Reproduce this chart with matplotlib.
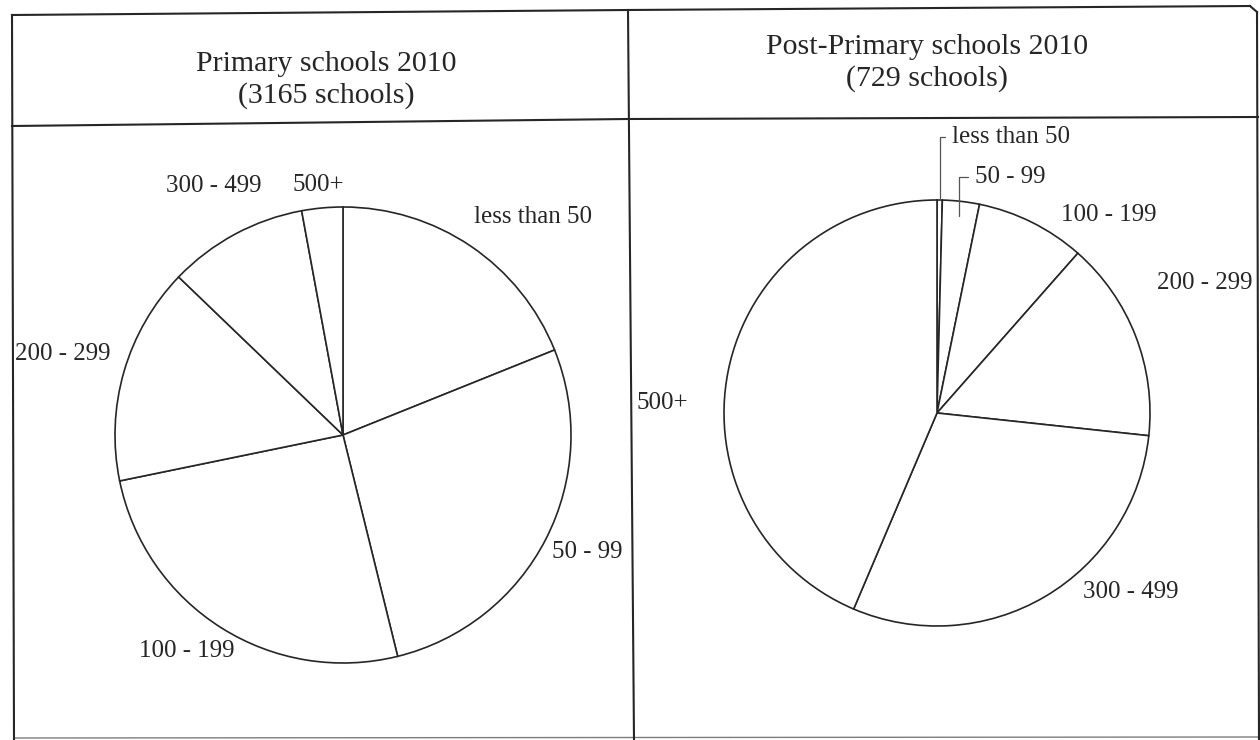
import numpy as np
import matplotlib.pyplot as plt

plt.rcParams['font.family'] = ['Liberation Serif', 'DejaVu Serif']

categories = ['less than 50', '50 - 99', '100 - 199', '200 - 299', '300 - 499', '500+']
primary_share = [18.9, 27.2, 25.6, 15.4, 9.9, 2.9]
post_primary_share = [0.4, 2.8, 8.3, 15.2, 29.7, 43.6]
titles = ['Primary schools 2010\n(3165 schools)', 'Post-Primary schools 2010\n(729 schools)']

W, H = 1260, 740
ink = '#262626'

fig = plt.figure(figsize=(12.6, 7.4), dpi=100)
fig.patch.set_facecolor('white')

# table frame in pixel coordinates
frame = fig.add_axes([0, 0, 1, 1])
frame.set_xlim(0, W)
frame.set_ylim(H, 0)
frame.axis('off')
lw = 1.5
frame.plot([12, 628, 1250], [15, 10, 6], color=ink, lw=lw)
frame.plot([1250, 1257], [6, 12], color=ink, lw=lw)
frame.plot([12, 628, 1258], [126, 119, 117], color=ink, lw=lw)
frame.plot([12, 14], [15, 740], color=ink, lw=lw)
frame.plot([628, 634], [10, 740], color=ink, lw=lw)
frame.plot([1257, 1259], [12, 740], color=ink, lw=lw)
frame.plot([14, 1259], [738, 737], color=ink, lw=1.0, alpha=0.6)

frame.text(326, 80, titles[0], ha='center', va='center', fontsize=21.5,
           color=ink, linespacing=1.2)
frame.text(927, 63, titles[1], ha='center', va='center', fontsize=21.5,
           color=ink, linespacing=1.2)


def pie_axes(cx, cy, r):
    return fig.add_axes([(cx - r) / W, (H - cy - r) / H, 2 * r / W, 2 * r / H])


def draw_pie(ax, values, label_pos):
    wedges, _ = ax.pie(values, startangle=90, counterclock=False, radius=1,
                       wedgeprops=dict(facecolor='white', edgecolor=ink, linewidth=1.2))
    ax.set_xlim(-1, 1)
    ax.set_ylim(-1, 1)
    ax.set_aspect('equal')
    for w, name in zip(wedges, categories):
        if name not in label_pos:
            continue
        d, dt = label_pos[name]
        mid = np.deg2rad((w.theta1 + w.theta2) / 2 + dt)
        ax.text(d * np.cos(mid), d * np.sin(mid), name, ha='center', va='center',
                fontsize=18, color=ink)
    return wedges


# left pie
ax1 = pie_axes(343, 435, 228)
draw_pie(ax1, primary_share, {
    'less than 50': (1.27, -7), '50 - 99': (1.19, 1.5), '100 - 199': (1.17, -3.5),
    '200 - 299': (1.28, 0), '300 - 499': (1.23, -0.8), '500+': (1.10, 0.4)})

# right pie
ax2 = pie_axes(937, 413, 213)
wedges2 = draw_pie(ax2, post_primary_share, {
    '100 - 199': (1.23, -14.5), '200 - 299': (1.40, 4.7),
    '300 - 499': (1.24, 16.8), '500+': (1.29, 9.5)})

# leader lines for the two thin slices
for w, name, rr, txt in [(wedges2[0], categories[0], 1.0, (0.07, 1.296)),
                         (wedges2[1], categories[1], 0.93, (0.178, 1.108))]:
    mid = np.deg2rad((w.theta1 + w.theta2) / 2)
    ax2.annotate(name, xy=(rr * np.cos(mid), rr * np.sin(mid)), xytext=txt,
                 ha='left', va='center', fontsize=18, color=ink,
                 arrowprops=dict(arrowstyle='-', color='#555555', lw=0.9,
                                 connectionstyle='angle,angleA=0,angleB=90,rad=0',
                                 shrinkA=3, shrinkB=0))

fig.savefig('out.png', dpi=100, facecolor='white')
